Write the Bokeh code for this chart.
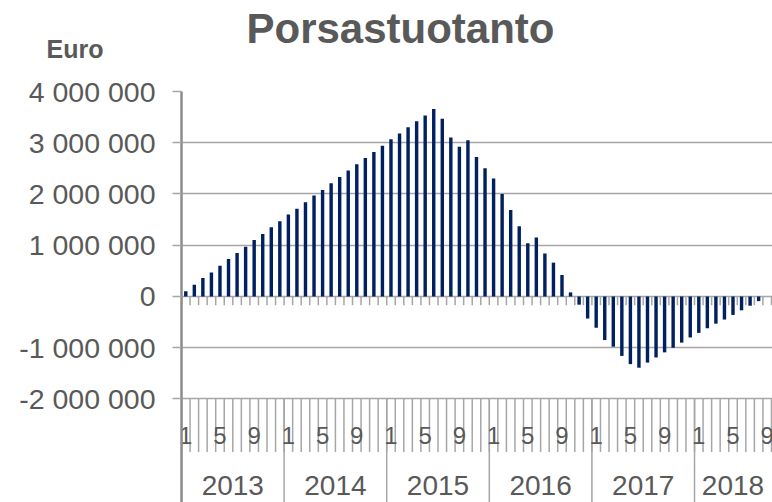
from bokeh.plotting import figure
from bokeh.layouts import column
from bokeh.models import Range1d, FixedTicker
from bokeh.embed import file_html
from bokeh.resources import INLINE
from bokeh.core.properties import value

title_text = "Porsastuotanto"
unit_label = "Euro"
years = ["2013", "2014", "2015", "2016", "2017", "2018"]
months_per_year = [12, 12, 12, 12, 12, 9]
shown_months = ["1", "5", "9"]
# monthly values in euro (Jan 2013 ... Aug 2018)
values = [
    100000, 230000, 360000, 470000, 600000, 730000, 850000, 970000, 1100000, 1220000, 1350000, 1470000,
    1600000, 1710000, 1840000, 1970000, 2080000, 2210000, 2330000, 2460000, 2580000, 2700000, 2820000, 2940000,
    3070000, 3180000, 3300000, 3420000, 3530000, 3660000, 3470000, 3100000, 2920000, 3050000, 2720000, 2500000,
    2300000, 2000000, 1690000, 1370000, 1040000, 1150000, 840000, 660000, 420000, 80000, -160000, -430000,
    -610000, -850000, -980000, -1160000, -1320000, -1390000, -1290000, -1190000, -1090000, -1000000, -900000, -800000,
    -710000, -620000, -530000, -450000, -360000, -270000, -180000, -90000,
]
y_ticks = [-2000000, -1000000, 0, 1000000, 2000000, 3000000, 4000000]
y_tick_labels = ["-2 000 000", "-1 000 000", "0", "1 000 000", "2 000 000", "3 000 000", "4 000 000"]

FONT = "Liberation Sans"
TXT = "#595959"
GRID = "#a6a6a6"
BAR = "#002060"

W = 772
TOP_H = 70
MAIN_H = 432
LEFT = 181

# ---------- header strip (title + unit label) ----------
head = figure(width=W, height=TOP_H, x_range=Range1d(LEFT, W), y_range=Range1d(TOP_H, 0),
              output_backend="svg", toolbar_location=None,
              x_axis_location=None,
              min_border_left=LEFT, min_border_right=0, min_border_top=0, min_border_bottom=0)
head.outline_line_color = None
head.xgrid.visible = False
head.ygrid.visible = False
head.yaxis.ticker = FixedTicker(ticks=[48])
head.yaxis.major_label_overrides = {48.0: unit_label}
head.yaxis.axis_line_color = None
head.yaxis.major_tick_line_color = None
head.yaxis.minor_tick_line_color = None
head.yaxis.major_tick_in = 0
head.yaxis.major_tick_out = 0
head.yaxis.major_label_standoff = 78
head.yaxis.major_label_text_font = FONT
head.yaxis.major_label_text_font_size = "25px"
head.yaxis.major_label_text_font_style = "bold"
head.yaxis.major_label_text_color = TXT
head.text(x=[400], y=[28], text=[title_text], text_align="center", text_baseline="middle",
          text_font=value(FONT), text_font_size="42px", text_font_style="bold", text_color=TXT)

# ---------- main chart ----------
n_cat = sum(months_per_year)
xs = list(range(1, len(values) + 1))

Y_TOP = 4.0e6
Y_BOT = -4.02e6
X_END = 69.62

p = figure(width=W, height=MAIN_H,
           x_range=Range1d(0.5, X_END), y_range=Range1d(Y_BOT, Y_TOP),
           output_backend="svg", toolbar_location=None,
           x_axis_location=None,
           min_border_left=LEFT, min_border_right=0, min_border_top=91 - TOP_H, min_border_bottom=0)
p.outline_line_color = None

p.yaxis.ticker = FixedTicker(ticks=y_ticks)
p.yaxis.major_label_overrides = {float(t): s for t, s in zip(y_ticks, y_tick_labels)}
p.yaxis.minor_tick_line_color = None
p.yaxis.major_tick_in = 0
p.yaxis.major_tick_out = 9
p.yaxis.major_tick_line_color = GRID
p.yaxis.major_tick_line_width = 1.5
p.yaxis.axis_line_color = "#8c8c8c"
p.yaxis.axis_line_width = 2.5
p.yaxis.major_label_text_font = FONT
p.yaxis.major_label_text_font_size = "28.5px"
p.yaxis.major_label_text_color = TXT
p.yaxis.major_label_standoff = 17

p.ygrid.ticker = FixedTicker(ticks=y_ticks)
p.ygrid.grid_line_color = GRID
p.ygrid.grid_line_width = 1.5
p.xgrid.visible = False

# bars
p.vbar(x=xs, top=values, bottom=0, width=0.4, fill_color=BAR, line_color=None)

# category tick marks hanging from the zero line
bounds = [i + 0.5 for i in range(0, n_cat + 1)]
tick_len = 0.17e6
p.segment(x0=bounds, y0=[0] * len(bounds), x1=bounds, y1=[-tick_len] * len(bounds),
          line_color=GRID, line_width=1.5)

# bottom category area: month separators and year separators
low = y_ticks[0]
p.segment(x0=bounds, y0=[low] * len(bounds), x1=bounds, y1=[low - 1.034e6] * len(bounds),
          line_color=GRID, line_width=1.5)
year_starts = []
acc = 0
for n in months_per_year:
    year_starts.append(acc + 0.5)
    acc += n
p.segment(x0=year_starts, y0=[low] * len(year_starts), x1=year_starts, y1=[Y_BOT] * len(year_starts),
          line_color=GRID, line_width=1.5)

# month labels
mx, mt = [], []
acc = 0
for n in months_per_year:
    for m in shown_months:
        if int(m) <= n:
            mx.append(acc + int(m))
            mt.append(m)
    acc += n
p.text(x=mx, y=[low - 0.712e6] * len(mx), text=mt, text_align="center", text_baseline="middle",
       text_font=value(FONT), text_font_size="24px", text_color=TXT)

# year labels
yx = []
acc = 0
for n in months_per_year:
    yx.append(acc + 0.5 + n / 2)
    acc += n
p.text(x=yx, y=[low - 1.698e6] * len(yx), text=years, text_align="center", text_baseline="middle",
       text_font=value(FONT), text_font_size="28px", text_color=TXT)

layout = column(head, p, spacing=0)
open("out.html", "w").write(file_html(layout, INLINE))
